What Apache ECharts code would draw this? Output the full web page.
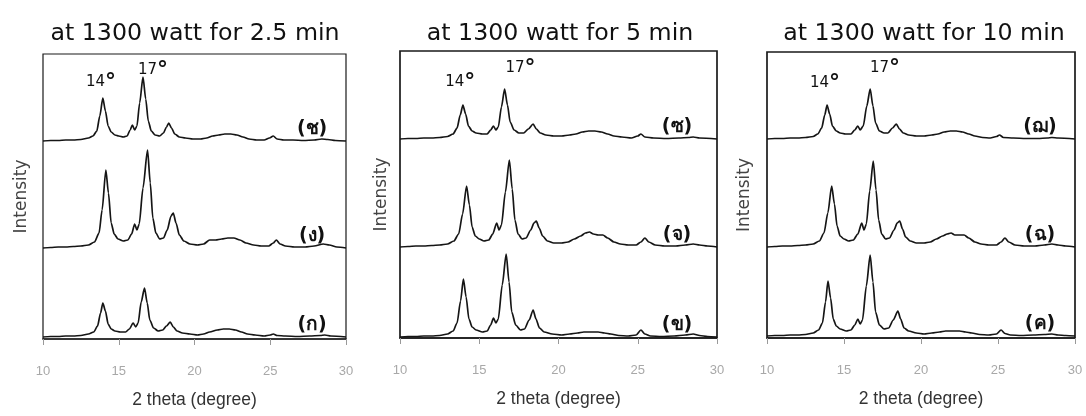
<!DOCTYPE html>
<html>
<head>
<meta charset="utf-8">
<script src="https://cdn.jsdelivr.net/npm/echarts@6/dist/echarts.min.js"></script>
<style>
  html, body { margin: 0; padding: 0; background: #fff; }
  #chart { width: 1086px; height: 416px; }
</style>
</head>
<body>
<div id="chart"></div>
<script>
// XRD patterns, [2 theta (degree), intensity (a.u.)]
// 2.5 min at 1300 W
const p25_ko = [[10,0],[10.5,0.5],[11,0.5],[11.5,1],[12,1],[12.5,1.5],[13,3],[13.35,5],[13.6,11],[13.8,24],[13.95,34],[14.12,26],[14.3,13],[14.5,8],[14.75,6],[15.1,5],[15.45,5],[15.7,8],[15.95,14],[16.12,10],[16.28,14],[16.48,35],[16.7,49],[16.88,34],[17.05,17],[17.3,9],[17.6,6],[17.9,7],[18.15,11],[18.4,15],[18.6,10],[18.85,6],[19.2,4],[19.7,3],[20.2,2],[20.6,3],[21,5],[21.5,7],[21.9,8],[22.3,8],[22.7,7],[23.1,5],[23.5,3],[24,2],[24.6,1],[25,2],[25.2,3],[25.45,1.5],[26,1],[26.8,0.5],[27.6,1],[28.3,1.5],[28.6,2],[29,1],[30,0]];
const p25_ngo = [[10,0],[10.5,0.5],[11,1],[11.5,1],[12,1.5],[12.5,2],[13,3],[13.4,6],[13.7,15],[13.9,38],[14.15,78],[14.32,55],[14.5,25],[14.7,14],[14.95,9],[15.3,7],[15.6,8],[15.85,14],[16.05,24],[16.2,18],[16.35,24],[16.6,60],[16.9,98],[17.08,65],[17.25,30],[17.45,15],[17.7,9],[17.95,10],[18.2,18],[18.45,32],[18.6,35],[18.78,25],[19,13],[19.3,7],[19.7,4],[20.2,3],[20.6,4],[21,8],[21.4,8],[21.8,9],[22.2,10],[22.6,10],[23,8],[23.4,5],[23.9,3],[24.4,2],[24.9,2],[25.2,5],[25.4,8],[25.65,4],[26,2],[26.6,1],[27.3,1],[27.9,2],[28.5,4],[28.9,3],[29.4,1],[30,0]];
const p25_cho = [[10,0],[10.5,0.5],[11,0.5],[11.5,1],[12,1],[12.5,1.5],[13,3],[13.3,5],[13.55,10],[13.75,25],[13.95,43],[14.12,30],[14.3,15],[14.5,9],[14.75,6],[15,5],[15.3,4],[15.55,5],[15.75,11],[15.9,16],[16.05,11],[16.2,15],[16.38,38],[16.6,64],[16.78,42],[16.95,20],[17.15,10],[17.4,6],[17.7,5],[17.95,8],[18.15,14],[18.3,18],[18.48,13],[18.7,7],[19,4],[19.4,3],[19.9,2],[20.4,2],[20.8,3],[21.2,5],[21.6,6],[22,7],[22.4,7],[22.8,6],[23.2,4],[23.6,2],[24.1,1],[24.6,1],[24.95,3],[25.2,5],[25.45,2],[25.9,1],[26.5,1],[27.2,0.5],[27.9,1],[28.4,2],[28.8,1.5],[29.3,0.5],[30,0]];
// 5 min at 1300 W
const p5_kho = [[10,0],[10.5,0.5],[11,0.5],[11.5,1],[12,1],[12.5,1.5],[13,3],[13.35,6],[13.6,14],[13.82,36],[14,58],[14.17,40],[14.35,18],[14.55,10],[14.8,7],[15.2,5],[15.5,6],[15.72,12],[15.9,19],[16.05,14],[16.2,18],[16.45,52],[16.7,83],[16.88,55],[17.05,25],[17.3,12],[17.6,7],[17.85,8],[18.15,17],[18.4,27],[18.58,18],[18.8,9],[19.1,5],[19.6,3],[20.2,2],[20.7,3],[21.2,4],[21.6,5],[22,5],[22.5,5],[22.9,4],[23.3,3],[23.8,1.5],[24.4,1],[24.9,2],[25.2,7],[25.45,3],[25.8,1],[26.5,0.5],[27.3,1],[28,2],[28.5,3],[28.9,1.5],[29.4,0.5],[30,0]];
const p5_cho_chan = [[10,0],[10.5,0.5],[11,1],[11.5,1],[12,1.5],[12.5,2],[13,3],[13.4,6],[13.7,13],[13.95,33],[14.2,61],[14.38,42],[14.55,20],[14.75,11],[15,8],[15.3,6],[15.6,7],[15.85,13],[16.1,24],[16.25,17],[16.4,22],[16.65,55],[16.9,87],[17.08,58],[17.25,27],[17.45,13],[17.7,8],[17.95,9],[18.25,17],[18.45,24],[18.6,26],[18.78,19],[19,11],[19.3,6],[19.7,4],[20.2,4],[20.6,5],[21,8],[21.4,11],[21.7,14],[21.95,15],[22.2,13],[22.5,12],[22.8,12],[23.1,9],[23.5,5],[23.9,3],[24.4,2],[24.9,2],[25.2,5],[25.45,9],[25.7,5],[26.1,2],[26.7,1],[27.4,1],[28,2],[28.5,3],[28.9,2],[29.4,1],[30,0]];
const p5_so = [[10,0],[10.5,0.5],[11,0.5],[11.5,1],[12,1],[12.5,1.5],[13,2.5],[13.35,5],[13.6,11],[13.8,24],[13.97,34],[14.14,25],[14.32,13],[14.55,8],[14.8,6],[15.2,5],[15.5,5],[15.72,9],[15.9,13],[16.05,9],[16.2,12],[16.4,32],[16.6,50],[16.78,34],[16.95,17],[17.2,9],[17.5,6],[17.8,6],[18.1,10],[18.4,15],[18.6,10],[18.85,6],[19.2,4],[19.7,3],[20.2,3],[20.7,4],[21.1,5],[21.5,7],[21.9,8],[22.3,8],[22.7,7],[23.1,5],[23.5,3],[24,2],[24.6,1],[25,3],[25.2,5],[25.45,2],[26,1],[26.8,0.5],[27.6,1],[28.2,1.5],[28.5,2],[28.9,1],[30,0]];
// 10 min at 1300 W
const p10_kho = [[10,0],[10.5,0.5],[11,0.5],[11.5,1],[12,1],[12.5,1.5],[13,3],[13.35,6],[13.6,13],[13.8,34],[13.96,55],[14.13,38],[14.3,17],[14.5,10],[14.75,7],[15.15,5],[15.45,6],[15.7,11],[15.9,17],[16.05,12],[16.2,16],[16.45,50],[16.7,81],[16.88,54],[17.05,24],[17.3,11],[17.6,7],[17.9,8],[18.2,16],[18.5,25],[18.68,17],[18.9,8],[19.2,5],[19.7,3],[20.2,2],[20.7,3],[21.2,4],[21.6,5],[22,5],[22.5,5],[22.9,4],[23.3,3],[23.8,1.5],[24.4,1],[24.9,2],[25.2,6],[25.45,2.5],[25.8,1],[26.5,0.5],[27.3,1],[28,1.5],[28.5,2],[28.9,1],[29.4,0.5],[30,0]];
const p10_cho = [[10,0],[10.5,0.5],[11,1],[11.5,1],[12,1.5],[12.5,2],[13,3],[13.4,6],[13.7,14],[13.95,34],[14.2,61],[14.38,43],[14.55,21],[14.75,11],[15,8],[15.3,6],[15.6,7],[15.9,13],[16.15,24],[16.3,17],[16.45,23],[16.67,56],[16.9,86],[17.08,57],[17.25,27],[17.45,13],[17.7,8],[17.95,9],[18.25,17],[18.45,24],[18.62,26],[18.8,18],[19,10],[19.3,6],[19.7,4],[20.2,4],[20.6,5],[21,8],[21.4,11],[21.7,13],[21.95,14],[22.2,12],[22.5,12],[22.8,12],[23.1,9],[23.5,5],[23.9,3],[24.4,2],[24.9,2],[25.2,5],[25.45,9],[25.7,5],[26.1,2],[26.7,1],[27.4,1],[28,2],[28.5,3],[28.9,2],[29.4,1],[30,0]];
const p10_cho_choe = [[10,0],[10.5,0.5],[11,0.5],[11.5,1],[12,1],[12.5,1.5],[13,2.5],[13.3,5],[13.55,11],[13.75,24],[13.9,34],[14.07,25],[14.25,13],[14.5,8],[14.75,6],[15.1,5],[15.45,5],[15.7,9],[15.9,13],[16.05,9],[16.25,13],[16.48,33],[16.7,50],[16.88,33],[17.05,16],[17.3,8],[17.6,6],[17.85,6],[18.15,11],[18.4,15],[18.6,10],[18.85,6],[19.2,4],[19.7,3],[20.2,3],[20.7,4],[21.1,5],[21.5,7],[21.9,8],[22.3,8],[22.7,7],[23.1,5],[23.5,3],[24,1.5],[24.5,1],[24.9,2.5],[25.1,4],[25.35,1.5],[26,1],[26.8,0.5],[27.6,0.5],[28.2,1],[28.5,1.5],[28.9,1],[30,0]];

const panelTitles = ['at 1300 watt for 2.5 min', 'at 1300 watt for 5 min', 'at 1300 watt for 10 min'];
const xTicks = [10, 15, 20, 25, 30];
// bottom, middle, top trace of each panel
const panelTraces = [
  [p25_ko, p25_ngo, p25_cho],
  [p5_kho, p5_cho_chan, p5_so],
  [p10_kho, p10_cho, p10_cho_choe]
];
const traceNames = [
  ['(ก)', '(ง)', '(ช)'],
  ['(ข)', '(จ)', '(ซ)'],
  ['(ค)', '(ฉ)', '(ฌ)']
];
const peakNames = ['14', '17'];

// layout of the three frames (pixels) and the vertical stacking of traces
const frames = [
  { left: 43, right: 740, top: 54, bottom: 77, yMax: 285, offsets: [2, 91, 198], nameGap: 13, border: 1.2,
    titleX: 190, tagX: 27.76, pk: [[13.83, 257], [17.26, 269]] },
  { left: 400, right: 369, top: 51, bottom: 78, yMax: 287, offsets: [1, 91, 199], nameGap: 10, border: 1.7,
    titleX: 555, tagX: 27.48, pk: [[13.8, 256], [17.6, 270]] },
  { left: 767, right: 11, top: 52, bottom: 78, yMax: 286, offsets: [2, 91, 199], nameGap: 14, border: 1.7,
    titleX: 919, tagX: 27.73, pk: [[13.77, 255], [17.66, 270]] }
];
const tagLift = 12;

const FONT = 'DejaVu Sans';
const grids = [], xAxes = [], yAxes = [], series = [], titles = [];

frames.forEach((f, i) => {
  grids.push({ left: f.left, right: f.right, top: f.top, bottom: f.bottom, show: true,
    borderColor: '#1a1a1a', borderWidth: f.border, backgroundColor: 'transparent' });
  xAxes.push({
    gridIndex: i, type: 'value', min: xTicks[0], max: xTicks[xTicks.length - 1], interval: 5,
    name: '2 theta (degree)', nameLocation: 'middle', nameGap: 52,
    nameTextStyle: { fontFamily: 'Liberation Sans', fontSize: 17.5, color: '#333' },
    axisLine: { show: true, lineStyle: { color: '#1a1a1a', width: 1.5 } },
    axisTick: { show: true, length: 6, lineStyle: { color: '#999' } },
    axisLabel: { margin: 26, fontFamily: 'Liberation Sans', fontSize: 13, color: '#a8a8a8' },
    splitLine: { show: false }
  });
  yAxes.push({
    gridIndex: i, type: 'value', min: 0, max: f.yMax,
    name: 'Intensity', nameLocation: 'middle', nameGap: f.nameGap,
    nameTextStyle: { fontFamily: FONT, fontSize: 17, color: '#444' },
    axisLine: { show: false }, axisTick: { show: false }, axisLabel: { show: false },
    splitLine: { show: false }
  });
  titles.push({
    text: panelTitles[i], left: f.titleX, top: 17, textAlign: 'center',
    textStyle: { fontFamily: FONT, fontSize: 23.7, fontWeight: 'normal', color: '#111' }
  });
  panelTraces[i].forEach((trace, k) => {
    const off = f.offsets[k];
    const marks = [{
      coord: [f.tagX, off + tagLift],
      label: { formatter: traceNames[i][k] }
    }];
    if (k === 2) {
      peakNames.forEach((p, j) => marks.push({
        coord: f.pk[j],
        label: { formatter: '{n|' + p + '}{d|°}' }
      }));
    }
    series.push({
      type: 'line', xAxisIndex: i, yAxisIndex: i,
      data: trace.map(([x, y]) => [x, y + off]),
      showSymbol: false, smooth: 0.25, smoothMonotone: 'x',
      lineStyle: { color: '#151515', width: 1.7 },
      silent: true, animation: false,
      markPoint: {
        symbol: 'circle', symbolSize: 0, silent: true,
        label: {
          show: true, position: 'inside', color: '#111',
          fontFamily: FONT, fontSize: 19, fontWeight: 'bold',
          rich: {
            n: { fontFamily: FONT, fontSize: 15, fontWeight: 'normal', color: '#111' },
            d: { fontFamily: FONT, fontSize: 22, fontWeight: 'bold', color: '#111' }
          }
        },
        data: marks
      }
    });
  });
});

const chart = echarts.init(document.getElementById('chart'), null, { renderer: 'canvas' });
chart.setOption({
  animation: false,
  backgroundColor: '#fff',
  title: titles,
  grid: grids,
  xAxis: xAxes,
  yAxis: yAxes,
  series: series
});
</script>
</body>
</html>
